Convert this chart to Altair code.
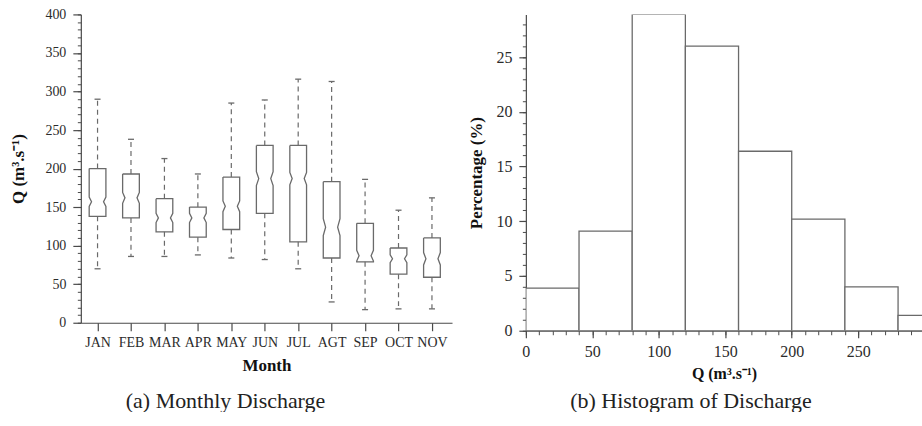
import json
import altair as alt
import pandas as pd

# ---- monthly discharge statistics (m3/s) ----
months = ["JAN", "FEB", "MAR", "APR", "MAY", "JUN", "JUL", "AGT", "SEP", "OCT", "NOV"]
whisker_hi = [290, 238, 213, 193, 285, 289, 316, 313, 186, 146, 162]
q3 = [200, 193, 161, 150, 189, 230, 230, 183, 129, 97, 110]
median = [157, 162, 136, 136, 151, 187, 187, 124, 87, 83, 83]
q1 = [138, 136, 118, 111, 121, 142, 105, 84, 79, 63, 59]
whisker_lo = [70, 86, 86, 88, 84, 82, 70, 27, 17, 18, 18]
notch_half = [6, 7, 6, 6, 7, 9, 8, 11, 7, 5, 8]

# ---- histogram of discharge ----
bin_lo = [0, 40, 80, 120, 160, 200, 240, 280]
bin_hi = [40, 80, 120, 160, 200, 240, 280, 320]
percent = [3.9, 9.1, 28.9, 26.0, 16.4, 10.2, 4.0, 1.4]

# ---- axis tick values ----
q_month_major = list(range(0, 401, 50))
q_month_minor = list(range(0, 401, 10))
pct_major = [0, 5, 10, 15, 20, 25]
pct_minor = list(range(0, 29))
q_hist_major = list(range(0, 251, 50))
q_hist_minor = list(range(0, 291, 10))

SERIF = "Liberation Serif"
LINE = "#6a6a6a"
AXIS = "#4a4a4a"
TEXT = "#2b2b2b"

# box geometry in month units
HALF_W = 0.25
NOTCH_IN = 0.07
CAP_W = 0.09

stats = pd.DataFrame({
    "month": months,
    "idx": list(range(1, len(months) + 1)),
    "hi": whisker_hi, "q3": q3, "med": median, "q1": q1, "lo": whisker_lo,
})
stats["cap_l"] = stats["idx"] - CAP_W
stats["cap_r"] = stats["idx"] + CAP_W

# notched box outlines, one closed path per month
rows = []
for i, m in enumerate(months):
    c = i + 1
    up = min(median[i] + notch_half[i], q3[i])
    dn = max(median[i] - notch_half[i], q1[i])
    L, R = c - HALF_W, c + HALF_W
    pts = [(L, q3[i]), (L, up), (L + NOTCH_IN, median[i]), (L, dn), (L, q1[i]),
           (R, q1[i]), (R, dn), (R - NOTCH_IN, median[i]), (R, up), (R, q3[i]),
           (L, q3[i])]
    for k, (px, py) in enumerate(pts):
        rows.append({"month": m, "k": k, "px": px, "py": py})
outline_df = pd.DataFrame(rows)

xs = alt.Scale(domain=[0.5, 11.6], nice=False, zero=False)
ys = alt.Scale(domain=[0, 400], nice=False)
label_expr = json.dumps(months) + "[datum.value - 1]"

x_month_axis = alt.Axis(
    values=list(range(1, len(months) + 1)), labelExpr=label_expr, title="Month",
    grid=False, tickSize=8, labelPadding=5, labelFontSize=14, titleFontSize=17,
    titlePadding=8, labelFont=SERIF, titleFont=SERIF, titleFontWeight="bold",
    labelColor=TEXT, titleColor="#111", domainColor=AXIS, tickColor=AXIS,
    domainWidth=1.2, tickWidth=1.2, labelFlush=False, labelOverlap=False,
)
y_month_axis = alt.Axis(
    values=q_month_major, title="Q (m³.s⁻¹)", orient="left", grid=False,
    tickSize=8, labelPadding=7, labelFontSize=14, titleFontSize=17,
    titlePadding=17, labelFont=SERIF, titleFont=SERIF, titleFontWeight="bold",
    labelColor=TEXT, titleColor="#111", domainColor=AXIS, tickColor=AXIS,
    domainWidth=1.2, tickWidth=1.2, labelFlush=False,
)
y_month_minor = alt.Axis(
    values=q_month_minor, orient="left", title=None, labels=False, grid=False,
    domain=False, tickSize=3.5, tickColor=AXIS, tickWidth=1,
)

outline = alt.Chart(outline_df).mark_line(stroke=LINE, strokeWidth=1.3).encode(
    x=alt.X("px:Q", scale=xs, axis=x_month_axis),
    y=alt.Y("py:Q", scale=ys, axis=y_month_axis),
    detail="month:N",
    order="k:Q",
)
base = alt.Chart(stats)
whisk_up = base.mark_rule(stroke=LINE, strokeWidth=1.2, strokeDash=[5, 4]).encode(
    x=alt.X("idx:Q", scale=xs, axis=None),
    y=alt.Y("q3:Q", scale=ys, axis=None), y2="hi:Q",
)
whisk_dn = base.mark_rule(stroke=LINE, strokeWidth=1.2, strokeDash=[5, 4]).encode(
    x=alt.X("idx:Q", scale=xs, axis=None),
    y=alt.Y("q1:Q", scale=ys, axis=None), y2="lo:Q",
)
cap_hi = base.mark_rule(stroke=LINE, strokeWidth=1.3).encode(
    x=alt.X("cap_l:Q", scale=xs, axis=None), x2="cap_r:Q",
    y=alt.Y("hi:Q", scale=ys, axis=None),
)
cap_lo = base.mark_rule(stroke=LINE, strokeWidth=1.3).encode(
    x=alt.X("cap_l:Q", scale=xs, axis=None), x2="cap_r:Q",
    y=alt.Y("lo:Q", scale=ys, axis=y_month_minor),
)

left = alt.layer(outline, whisk_up, whisk_dn, cap_hi, cap_lo).resolve_scale(
    x="shared", y="shared"
).resolve_axis(x="independent", y="independent").properties(
    width=372, height=309,
    title=alt.TitleParams(
        "(a) Monthly Discharge", orient="bottom", anchor="middle", frame="group",
        dx=-41, offset=17, font=SERIF, fontSize=22, fontWeight="normal", color="#222",
    ),
)

# ---- histogram panel ----
hist = pd.DataFrame({"lo": bin_lo, "hi": bin_hi, "pct": percent})
hx = alt.Scale(domain=[0, 298], nice=False, zero=False)
hy = alt.Scale(domain=[0, 28.9], nice=False)

x_hist_axis = alt.Axis(
    values=q_hist_major, title="Q (m³.s⁻¹)", orient="bottom", grid=False,
    tickSize=7, labelPadding=6, labelFontSize=16, titleFontSize=16,
    titlePadding=6, labelFont=SERIF, titleFont=SERIF, titleFontWeight="bold",
    labelColor=TEXT, titleColor="#111", domainColor=AXIS, tickColor=AXIS,
    domainWidth=1.2, tickWidth=1.2, labelFlush=False, format="d",
)
x_hist_minor = alt.Axis(
    values=q_hist_minor, orient="bottom", title=None, labels=False, grid=False,
    domain=False, tickSize=4, tickColor=AXIS, tickWidth=1,
)
y_hist_axis = alt.Axis(
    values=pct_major, title="Percentage (%)", orient="left", grid=False,
    tickSize=7, labelPadding=7, labelFontSize=16, titleFontSize=17,
    titlePadding=10, labelFont=SERIF, titleFont=SERIF, titleFontWeight="bold",
    labelColor=TEXT, titleColor="#111", domainColor=AXIS, tickColor=AXIS,
    domainWidth=1.2, tickWidth=1.2, labelFlush=False,
)
y_hist_minor = alt.Axis(
    values=pct_minor, orient="left", title=None, labels=False, grid=False,
    domain=False, tickSize=3.5, tickColor=AXIS, tickWidth=1,
)

bars = alt.Chart(hist).mark_rect(
    fill="white", stroke=LINE, strokeWidth=1.3, clip=True
).encode(
    x=alt.X("lo:Q", scale=hx, axis=x_hist_axis), x2="hi:Q",
    y=alt.Y("pct:Q", scale=hy, axis=y_hist_axis), y2=alt.datum(0),
)
bars_minor = alt.Chart(hist).mark_rect(opacity=0, clip=True).encode(
    x=alt.X("lo:Q", scale=hx, axis=x_hist_minor), x2="hi:Q",
    y=alt.Y("pct:Q", scale=hy, axis=y_hist_minor), y2=alt.datum(0),
)

right = alt.layer(bars, bars_minor).resolve_scale(
    x="shared", y="shared"
).resolve_axis(x="independent", y="independent").properties(
    width=397, height=317,
    title=alt.TitleParams(
        "(b) Histogram of Discharge", orient="bottom", anchor="middle", frame="group",
        dx=-33, offset=9, font=SERIF, fontSize=22, fontWeight="normal", color="#222",
    ),
)

chart = alt.hconcat(left, right, spacing=16).properties(
    padding={"left": 10, "top": 7, "right": 0, "bottom": 0},
    background="white",
).configure_view(stroke=None)

chart.save("out.html", embed_options={"renderer": "svg", "actions": False})
